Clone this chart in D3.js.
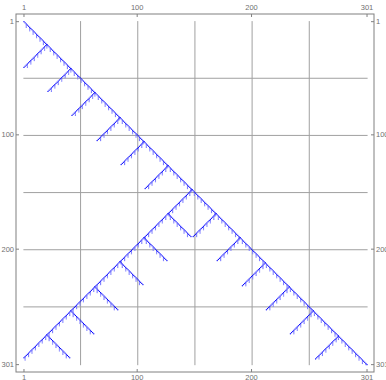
<!DOCTYPE html>
<html>
<head>
<meta charset="utf-8">
<script src="https://cdn.jsdelivr.net/npm/d3@7"></script>
<style>
  html, body { margin: 0; padding: 0; background: #fff; }
  svg { display: block; }
</style>
</head>
<body>
<div id="chart"></div>
<script>
// matrix size and axis ticks
const n = 301;
const tickValues = [1, 100, 200, 301];
const gridValues = [50.5, 100.5, 150.5, 200.5, 250.5];

// main diagonal, then the long anti-diagonal leaving it at row 148
const mainLine = [[1, 1], [301, 301]];
const antiLine = [[148, 148], [295, 1]];

// rows on the main diagonal where a short branch leaves down-left
const diagBranchRows = [21, 42, 63, 85, 106, 127, 169, 190, 212, 233, 254, 276];
// columns on the anti-diagonal where a short branch leaves down-right
const antiBranchCols = [21, 42, 63, 85, 106, 127];
const branchLen = 20;

// small comb teeth hanging under every line
const hairStep = 3;
const hairLen = 3;

const W = 386, H = 380;
const frame = {x0: 16, y0: 14, x1: 374, y1: 372};

const x = d3.scaleLinear().domain([0.5, n + 0.5]).range([23.4, 367.6]);
const y = d3.scaleLinear().domain([0.5, n + 0.5]).range([21.1, 365.2]);
const cw = x(2) - x(1), ch = y(2) - y(1);

const svg = d3.select("#chart").append("svg")
    .attr("width", W)
    .attr("height", H)
    .attr("viewBox", [0, 0, W, H])
    .style("font-family", "'Liberation Sans', Arial, sans-serif");

// grid
svg.append("g").selectAll("line.v")
    .data(gridValues)
    .join("line")
    .attr("x1", d => x(d)).attr("x2", d => x(d))
    .attr("y1", y(0.5)).attr("y2", y(n + 0.5))
    .attr("stroke", "#a0a0a0").attr("stroke-width", 1);
svg.append("g").selectAll("line.h")
    .data(gridValues)
    .join("line")
    .attr("y1", d => y(d)).attr("y2", d => y(d))
    .attr("x1", x(0.5)).attr("x2", x(n + 0.5))
    .attr("stroke", "#a0a0a0").attr("stroke-width", 1);

// build the cell lists
const lineCells = [];
const hairCells = [];

function addSegment(r0, c0, r1, c1) {
    const steps = Math.max(Math.abs(r1 - r0), Math.abs(c1 - c0));
    const dr = Math.sign(r1 - r0), dc = Math.sign(c1 - c0);
    for (let k = 0; k <= steps; k++) {
        lineCells.push([Math.round(r0 + dr * k), Math.round(c0 + dc * k)]);
    }
    for (let t = 2; t <= steps - 1; t += hairStep) {
        const k = Math.round(t);
        const r = Math.round(r0 + dr * k), c = Math.round(c0 + dc * k);
        for (let h = 1; h <= hairLen; h++) {
            if (r + h <= n) hairCells.push([r + h, c]);
        }
    }
}

addSegment(mainLine[0][0], mainLine[0][1], mainLine[1][0], mainLine[1][1]);
addSegment(antiLine[0][0], antiLine[0][1], antiLine[1][0], antiLine[1][1]);
diagBranchRows.forEach(r => addSegment(r, r, r + branchLen, r - branchLen));
antiBranchCols.forEach(c => {
    const r = antiLine[0][0] + antiLine[0][1] - c;
    addSegment(r, c, r + branchLen, c + branchLen);
});

svg.append("g").selectAll("rect")
    .data(hairCells)
    .join("rect")
    .attr("x", d => x(d[1] - 0.5))
    .attr("y", d => y(d[0] - 0.5))
    .attr("width", cw)
    .attr("height", ch)
    .attr("fill", "#8080ff");

svg.append("g").selectAll("rect")
    .data(lineCells)
    .join("rect")
    .attr("x", d => x(d[1] - 0.5))
    .attr("y", d => y(d[0] - 0.5))
    .attr("width", cw)
    .attr("height", ch)
    .attr("fill", "#0000ff");

// frame
svg.append("rect")
    .attr("x", frame.x0).attr("y", frame.y0)
    .attr("width", frame.x1 - frame.x0).attr("height", frame.y1 - frame.y0)
    .attr("fill", "none").attr("stroke", "#808080").attr("stroke-width", 1);

// ticks and labels on all four sides
const tickCol = "#808080", labCol = "#707070", fs = 7.5;
const ticks = svg.append("g");
tickValues.forEach(v => {
    ticks.append("line").attr("x1", x(v)).attr("x2", x(v)).attr("y1", frame.y0).attr("y2", frame.y0 + 3).attr("stroke", tickCol);
    ticks.append("line").attr("x1", x(v)).attr("x2", x(v)).attr("y1", frame.y1).attr("y2", frame.y1 - 3).attr("stroke", tickCol);
    ticks.append("line").attr("y1", y(v)).attr("y2", y(v)).attr("x1", frame.x0).attr("x2", frame.x0 + 3).attr("stroke", tickCol);
    ticks.append("line").attr("y1", y(v)).attr("y2", y(v)).attr("x1", frame.x1).attr("x2", frame.x1 - 3).attr("stroke", tickCol);

    ticks.append("text").attr("x", x(v)).attr("y", frame.y0 - 4).attr("text-anchor", "middle")
        .attr("font-size", fs).attr("fill", labCol).text(v);
    ticks.append("text").attr("x", x(v)).attr("y", frame.y1 + 8).attr("text-anchor", "middle")
        .attr("font-size", fs).attr("fill", labCol).text(v);
    ticks.append("text").attr("x", frame.x0 - 2).attr("y", y(v)).attr("dy", "0.35em").attr("text-anchor", "end")
        .attr("font-size", fs).attr("fill", labCol).text(v);
    ticks.append("text").attr("x", frame.x1 + 2).attr("y", y(v)).attr("dy", "0.35em").attr("text-anchor", "start")
        .attr("font-size", fs).attr("fill", labCol).text(v);
});
</script>
</body>
</html>
